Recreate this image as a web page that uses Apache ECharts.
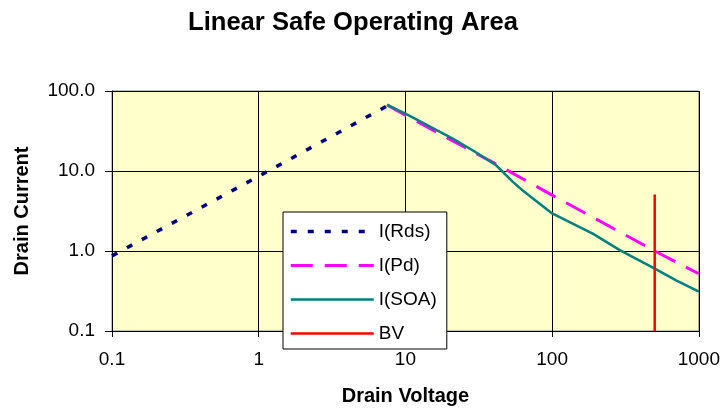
<!DOCTYPE html>
<html>
<head>
<meta charset="utf-8">
<script src="https://cdn.jsdelivr.net/npm/echarts@6/dist/echarts.min.js"></script>
<style>html,body{margin:0;padding:0;background:#fff;}#c{width:723px;height:411px;}</style>
</head>
<body>
<div id="c"></div>
<script>
// ---- data ----
const titleText = 'Linear Safe Operating Area';
const xName = 'Drain Voltage';
const yName = 'Drain Current';
const seriesNames = ['I(Rds)', 'I(Pd)', 'I(SOA)', 'BV'];

const rdsV = [0.1, 1, 7.6];
const rdsI = [0.87, 8.6, 66];

const pdV = [7.5, 10, 20, 46, 100, 200, 500, 1000];
const pdI = [67, 50, 25, 11, 5, 2.5, 1.0, 0.52];

const soaV = [7.5, 10, 21, 30, 41.5, 54, 63, 100, 189, 291, 490, 700, 1000];
const soaI = [67, 52, 25.4, 17.3, 11.8, 7.3, 5.7, 2.95, 1.65, 1.02, 0.615, 0.43, 0.31];

const bvV = [500, 500];
const bvI = [0.1, 5.1];

const xTicks = ['0.1', '1', '10', '100', '1000'];
const yTicks = ['0.1', '1.0', '10.0', '100.0'];

function pairs(xs, ys) { return xs.map((x, i) => [x, ys[i]]); }

const FONT = "'Liberation Sans', Arial, sans-serif";
const chart = echarts.init(document.getElementById('c'), null, { renderer: 'canvas' });

chart.setOption({
  animation: false,
  backgroundColor: '#ffffff',
  textStyle: { fontFamily: FONT, color: '#000' },
  title: {
    text: titleText,
    left: 183,
    top: 5,
    textStyle: { fontFamily: FONT, fontSize: 25.6, fontWeight: 'bold', color: '#000' }
  },
  grid: {
    left: 112, right: 24, top: 91, bottom: 80,
    show: true, backgroundColor: '#FFFFCC', borderColor: '#808080', borderWidth: 1
  },
  legend: {
    orient: 'vertical',
    left: 283, top: 212,
    backgroundColor: '#ffffff',
    borderColor: '#000', borderWidth: 1, borderRadius: 0,
    padding: [10, 10, 6, 6],
    itemWidth: 83, itemHeight: 14, itemGap: 15,
    align: 'left',
    itemStyle: { opacity: 0, borderWidth: 0 },
    lineStyle: { opacity: 1, width: 'inherit', type: 'inherit' },
    textStyle: { fontFamily: FONT, fontSize: 19, color: '#000' },
    data: seriesNames
  },
  xAxis: {
    type: 'log', logBase: 10, min: 0.1, max: 1000,
    name: xName, nameLocation: 'middle', nameGap: 55,
    nameTextStyle: { fontFamily: FONT, fontSize: 20, fontWeight: 'bold', color: '#000' },
    axisLine: { show: true, lineStyle: { color: '#000', width: 1 } },
    axisTick: { show: true, inside: false, length: 6, lineStyle: { color: '#000' } },
    minorTick: { show: false },
    splitLine: { show: true, lineStyle: { color: '#000', width: 1 } },
    axisLabel: {
      fontFamily: FONT, fontSize: 19, color: '#000', margin: 19,
      formatter: function (v) {
        const e = Math.round(Math.log10(v));
        return xTicks[e + 1] !== undefined ? xTicks[e + 1] : '';
      }
    }
  },
  yAxis: {
    type: 'log', logBase: 10, min: 0.1, max: 100,
    name: yName, nameLocation: 'middle', nameGap: 80, nameRotate: 90,
    nameTextStyle: { fontFamily: FONT, fontSize: 20, fontWeight: 'bold', color: '#000' },
    axisLine: { show: true, lineStyle: { color: '#000', width: 1 } },
    axisTick: { show: true, inside: false, length: 7, lineStyle: { color: '#000' } },
    minorTick: { show: false },
    splitLine: { show: true, lineStyle: { color: '#000', width: 1 } },
    axisLabel: {
      fontFamily: FONT, fontSize: 19, color: '#000', margin: 17,
      formatter: function (v) {
        const e = Math.round(Math.log10(v));
        return yTicks[e + 1] !== undefined ? yTicks[e + 1] : '';
      }
    }
  },
  series: [
    {
      name: seriesNames[0], type: 'line', data: pairs(rdsV, rdsI), symbol: 'none',
      color: '#000080',
      lineStyle: { color: '#000080', width: 3.5, type: [6, 11] }, z: 3
    },
    {
      name: seriesNames[1], type: 'line', data: pairs(pdV, pdI), symbol: 'none',
      color: '#FF00FF',
      lineStyle: { color: '#FF00FF', width: 3, type: [22, 12] }, z: 3
    },
    {
      name: seriesNames[2], type: 'line', data: pairs(soaV, soaI), symbol: 'none',
      color: '#008080',
      lineStyle: { color: '#008080', width: 2.5, type: 'solid' }, z: 4
    },
    {
      name: seriesNames[3], type: 'line', data: pairs(bvV, bvI), symbol: 'none',
      color: '#FF0000',
      lineStyle: { color: '#FF0000', width: 2.5, type: 'solid' }, z: 4
    }
  ]
});
</script>
</body>
</html>
